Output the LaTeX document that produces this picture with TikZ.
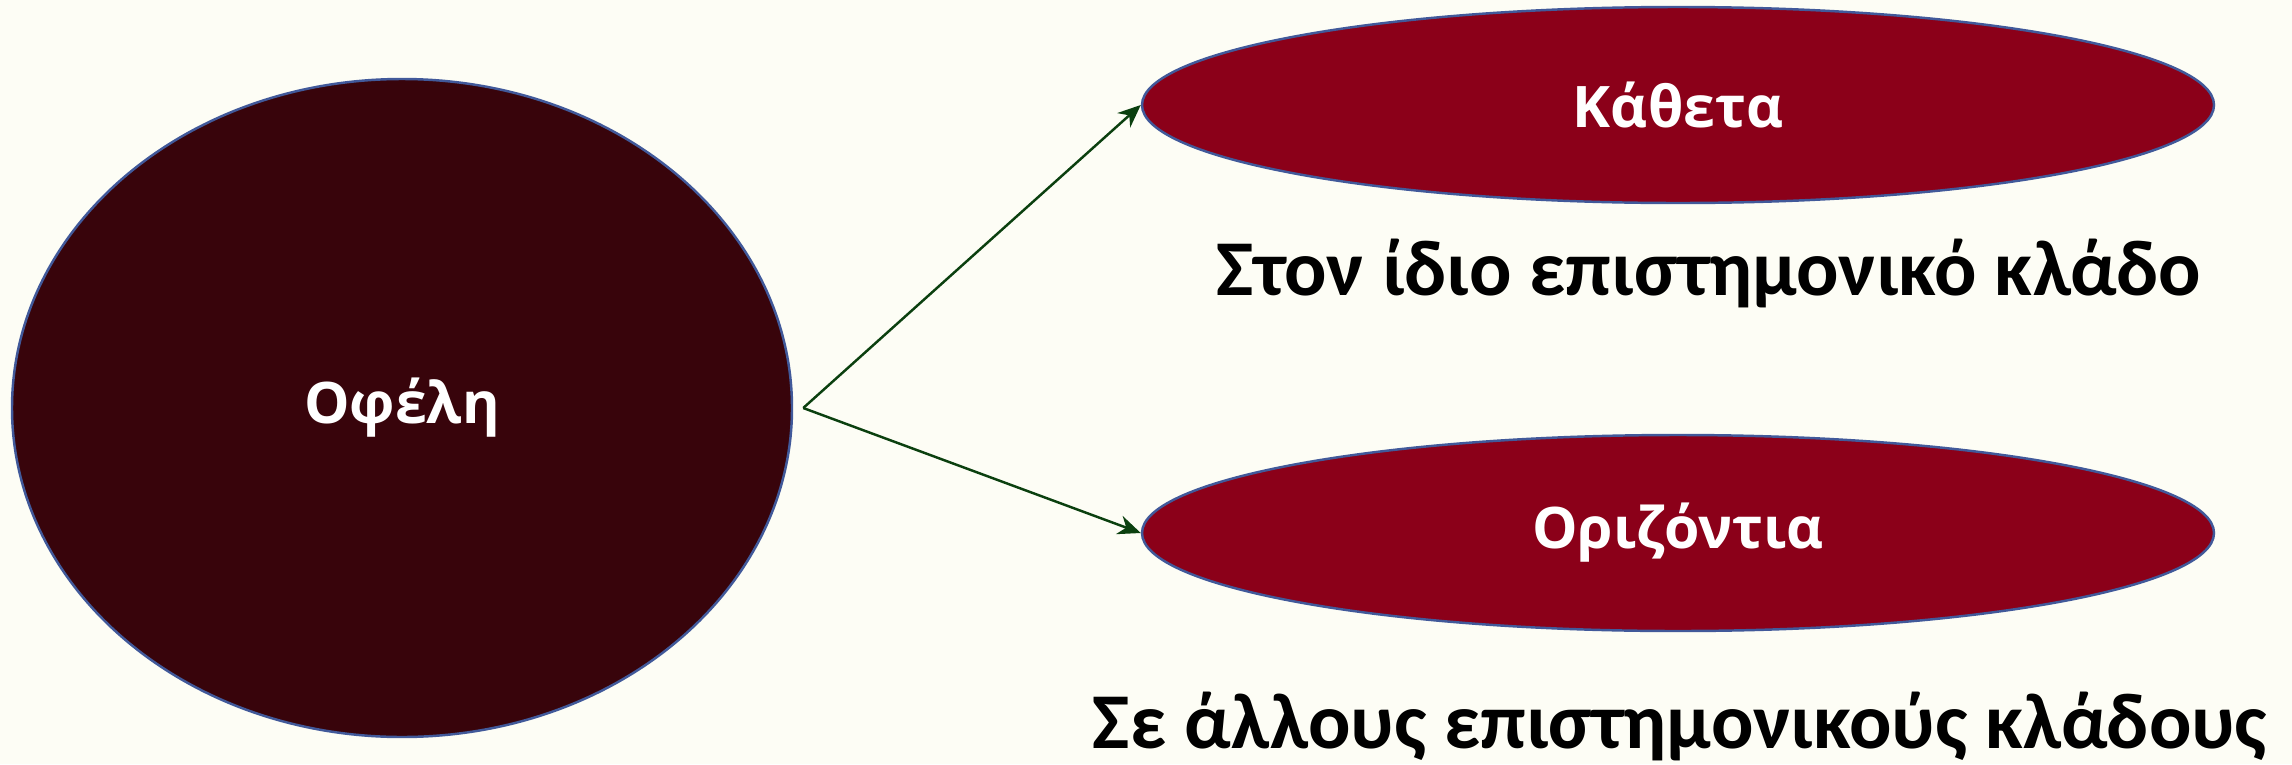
\documentclass[tikz,border=0pt]{standalone}
\usepackage{fontspec}
\setmainfont{Open Sans}
\newfontfamily\capfont{Carlito}
\usepackage{tikz}
\usetikzlibrary{arrows.meta,positioning,shapes.geometric}
\definecolor{obg}{HTML}{FDFDF5}
\definecolor{omaroon}{HTML}{38040B}
\definecolor{ored}{HTML}{8B0019}
\definecolor{oblue}{HTML}{41599A}
\definecolor{ogreen}{HTML}{0B400F}
\tikzset{
  bigell/.style={ellipse,draw=oblue,fill=omaroon,line width=0.7pt,inner sep=0pt,minimum width=7.80cm,minimum height=6.58cm,text=white,font=\fontsize{16.3}{18}\selectfont\bfseries},
  redell/.style={ellipse,draw=oblue,fill=ored,line width=0.7pt,inner sep=0pt,minimum width=10.72cm,minimum height=1.96cm,text=white,font=\fontsize{16.3}{18}\selectfont\bfseries},
  garr/.style={-{Stealth[length=6.5pt,width=5.5pt]},line width=0.7pt,draw=ogreen},
  caption/.style={anchor=base,text=black,font=\capfont\fontsize{22.5}{26}\selectfont\bfseries,inner sep=0pt},
}
\begin{document}
\begin{tikzpicture}
  \fill[obg] (0,0) rectangle (22.92,7.64);
  \useasboundingbox (0,0) rectangle (22.92,7.64);
  \node[bigell] (ofeli) at (4.02,3.56) {Οφέλη};
  \node[redell] (katheta) at (16.78,6.59) {Κάθετα};
  \node[redell] (orizontia) at (16.78,2.31) {Οριζόντια};
  \node[caption] (idios) at (17.09,4.69) {Στον ίδιο επιστημονικό κλάδο};
  \node[caption] (alloi) at (16.80,0.16) {Σε άλλους επιστημονικούς κλάδους};
  \coordinate[right=0.1cm of ofeli.east] (split);
  \draw[garr] (split) -- (katheta.west);
  \draw[garr] (split) -- (orizontia.west);
\end{tikzpicture}
\end{document}
